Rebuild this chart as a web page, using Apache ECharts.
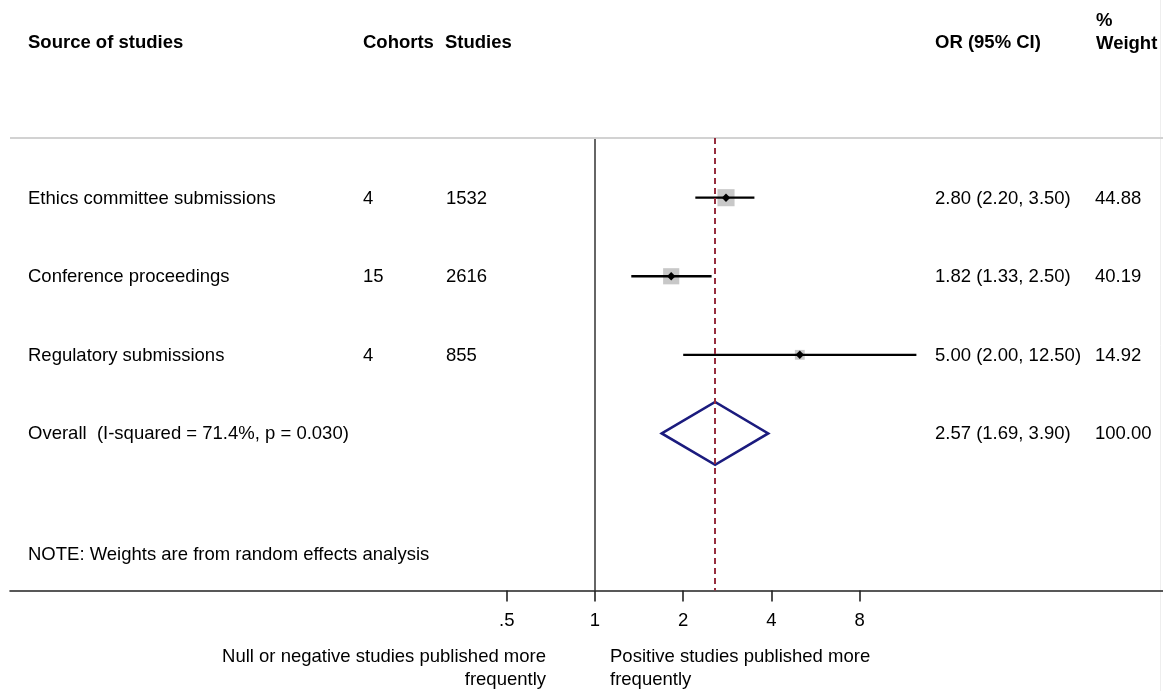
<!DOCTYPE html>
<html>
<head>
<meta charset="utf-8">
<script src="https://cdn.jsdelivr.net/npm/echarts@6/dist/echarts.min.js"></script>
<style>
  html, body { margin: 0; padding: 0; background: #fff; }
  #chart { width: 1163px; height: 691px; }
</style>
</head>
<body>
<div id="chart"></div>
<script>
// ---------- data ----------
const sources = ['Ethics committee submissions', 'Conference proceedings', 'Regulatory submissions'];
const cohorts = [4, 15, 4];
const studies = [1532, 2616, 855];
const orValues = [2.80, 1.82, 5.00];
const ciLower = [2.20, 1.33, 2.00];
const ciUpper = [3.50, 2.50, 12.50];
const weights = [44.88, 40.19, 14.92];

const overallLabel = 'Overall  (I-squared = 71.4%, p = 0.030)';
const overallOR = 2.57;
const overallLower = 1.69;
const overallUpper = 3.90;
const overallWeight = 100.00;

const noteText = 'NOTE: Weights are from random effects analysis';
const headers = ['Source of studies', 'Cohorts', 'Studies', 'OR (95% CI)', '%\nWeight'];
const tickValues = [0.5, 1, 2, 4, 8];
const tickLabels = ['.5', '1', '2', '4', '8'];
const leftNote = 'Null or negative studies published more\nfrequently';
const rightNote = 'Positive studies published more\nfrequently';

// ---------- layout ----------
const FONT = "'Liberation Sans', Arial, Helvetica, sans-serif";
const FS = 18.5;
const colX = [28, 363, 446, 935, 1095];
const X_MIN = Math.pow(2, -585 / 88.2);
const X_MAX = Math.pow(2, 568 / 88.2);
const Y_MIN = 0.24, Y_MAX = 6.0;
const NOTE_ROW = 5.53;
const BOX_SCALE = 2.55;

const fmt2 = v => v.toFixed(2);

// rows of the table: [rowPos, label, cohorts, studies, ciText, weightText]
const tableRows = sources.map((s, i) => [
  i + 1, s, String(cohorts[i]), String(studies[i]),
  fmt2(orValues[i]) + ' (' + fmt2(ciLower[i]) + ', ' + fmt2(ciUpper[i]) + ')',
  fmt2(weights[i])
]);
tableRows.push([sources.length + 1, overallLabel, '', '', 
  fmt2(overallOR) + ' (' + fmt2(overallLower) + ', ' + fmt2(overallUpper) + ')', fmt2(overallWeight)]);
tableRows.push([NOTE_ROW, noteText, '', '', '', '']);

const studyData = sources.map((s, i) => [orValues[i], ciLower[i], ciUpper[i], i + 1, weights[i]]);
const overallData = [[overallOR, overallLower, overallUpper, sources.length + 1]];

const chart = echarts.init(document.getElementById('chart'), null, { renderer: 'canvas' });

const textStyleBase = { fill: '#000', fontSize: FS, fontFamily: FONT, verticalAlign: 'middle', align: 'left' };

const option = {
  animation: false,
  backgroundColor: '#fff',
  grid: { left: 10, right: 0, top: 138, bottom: 100.5, containLabel: false },
  xAxis: {
    type: 'log', logBase: 2, min: X_MIN, max: X_MAX,
    axisLine: { show: true, onZero: false, lineStyle: { color: '#222', width: 1.6 } },
    axisTick: { show: true, customValues: tickValues, length: 11, lineStyle: { color: '#222', width: 1.6 } },
    axisLabel: {
      show: true, customValues: tickValues, margin: 21,
      formatter: v => { const k = tickValues.findIndex(t => Math.abs(t - v) < 1e-6); return k >= 0 ? tickLabels[k] : ''; },
      color: '#000', fontSize: FS, fontFamily: FONT
    },
    splitLine: { show: false },
    minorTick: { show: false }
  },
  yAxis: {
    type: 'value', inverse: true, min: Y_MIN, max: Y_MAX,
    show: false, splitLine: { show: false }
  },
  series: [
    {
      type: 'custom', name: 'studies', z: 3, clip: false,
      data: studyData,
      encode: { x: [0, 1, 2], y: 3 },
      renderItem: (params, api) => {
        const r = api.value(3);
        const c = api.coord([api.value(0), r]);
        const l = api.coord([api.value(1), r]);
        const h = api.coord([api.value(2), r]);
        const s = BOX_SCALE * Math.sqrt(api.value(4));
        const d = 4.2;
        return {
          type: 'group', children: [
            { type: 'rect', shape: { x: c[0] - s / 2, y: c[1] - s / 2, width: s, height: s }, style: { fill: '#c8c8c8' } },
            { type: 'line', shape: { x1: l[0], y1: l[1], x2: h[0], y2: h[1] }, style: { stroke: '#000', lineWidth: 2.3 } },
            { type: 'polygon', shape: { points: [[c[0] - d, c[1]], [c[0], c[1] - d], [c[0] + d, c[1]], [c[0], c[1] + d]] }, style: { fill: '#000' } }
          ]
        };
      },
      markLine: {
        silent: true, symbol: 'none', label: { show: false },
        data: [
          { xAxis: 1, lineStyle: { color: '#333', width: 1.5, type: 'solid' } },
          { yAxis: Y_MIN, lineStyle: { color: '#d2d2d2', width: 2, type: 'solid' } }
        ]
      }
    },
    {
      type: 'custom', name: 'overall', z: 2, clip: false,
      data: overallData,
      encode: { x: [0, 1, 2], y: 3 },
      renderItem: (params, api) => {
        const r = api.value(3);
        const pts = [
          api.coord([api.value(1), r]),
          api.coord([api.value(0), r - 0.4]),
          api.coord([api.value(2), r]),
          api.coord([api.value(0), r + 0.4])
        ];
        return { type: 'polygon', shape: { points: pts }, style: { fill: 'none', stroke: '#1b1b7e', lineWidth: 2.6, lineJoin: 'miter' } };
      },
      markLine: {
        silent: true, symbol: 'none', label: { show: false },
        data: [ { xAxis: overallOR, lineStyle: { color: '#962d3e', width: 2, type: [6, 4] } } ]
      }
    },
    {
      type: 'custom', name: 'table', z: 4, clip: false,
      data: tableRows.map(r => [1, r[0]]),
      encode: { x: 0, y: 1 },
      renderItem: (params, api) => {
        const row = tableRows[params.dataIndex];
        const y = api.coord([1, row[0]])[1] + 1;
        const children = [];
        for (let k = 1; k <= 5; k++) {
          if (!row[k]) continue;
          children.push({ type: 'text', x: colX[k - 1], y: y, style: Object.assign({ text: row[k] }, textStyleBase) });
        }
        return { type: 'group', children };
      }
    }
  ],
  graphic: [
    { type: 'text', left: colX[0], top: 33, style: { text: headers[0], fill: '#000', font: 'bold ' + FS + 'px ' + FONT } },
    { type: 'text', left: colX[1], top: 33, style: { text: headers[1], fill: '#000', font: 'bold ' + FS + 'px ' + FONT } },
    { type: 'text', left: colX[2] - 1, top: 33, style: { text: headers[2], fill: '#000', font: 'bold ' + FS + 'px ' + FONT } },
    { type: 'text', left: colX[3], top: 33, style: { text: headers[3], fill: '#000', font: 'bold ' + FS + 'px ' + FONT } },
    { type: 'text', left: colX[4] + 1, top: 10, style: { text: headers[4], fill: '#000', font: 'bold ' + FS + 'px ' + FONT, lineHeight: 22.6 } },
    { type: 'text', x: 546, y: 646, style: { text: leftNote, fill: '#000', font: FS + 'px ' + FONT, align: 'right', lineHeight: 22.5 } },
    { type: 'text', x: 610, y: 646, style: { text: rightNote, fill: '#000', font: FS + 'px ' + FONT, align: 'left', lineHeight: 22.5 } },
    { type: 'line', shape: { x1: 1160.5, y1: 0, x2: 1160.5, y2: 691 }, style: { stroke: '#eeeeee', lineWidth: 1 }, z: 0 }
  ]
};
chart.setOption(option);
</script>
</body>
</html>
